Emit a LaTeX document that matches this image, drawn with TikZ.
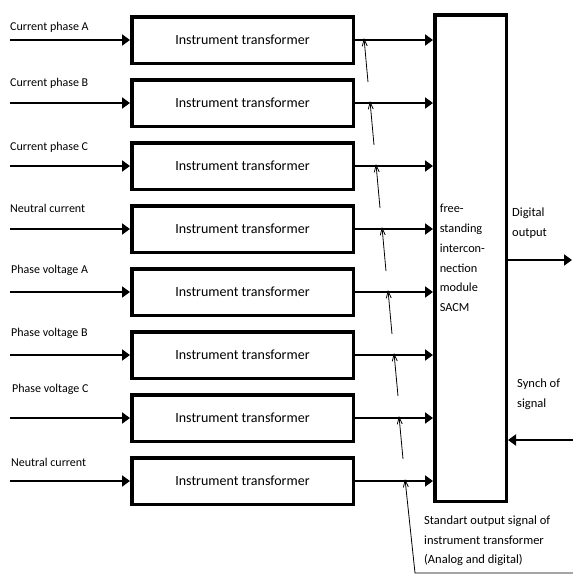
\documentclass[tikz,border=0pt]{standalone}
\usepackage{fontspec}
\setmainfont{Carlito}
\usetikzlibrary{arrows.meta,positioning,calc}

\begin{document}
\begin{tikzpicture}[x=1pt,y=-1pt,
  itbox/.style={draw,line width=3.5pt,minimum width=221.5pt,minimum height=46.5pt,
                inner sep=0pt,font=\fontsize{14}{16}\selectfont},
  sacm/.style={draw,line width=3.5pt,minimum height=486.5pt,text width=61.5pt,
               inner xsep=5pt,align=left,font=\fontsize{12.3}{19.8}\selectfont},
  lab/.style={anchor=west,inner sep=0pt,align=left,font=\fontsize{12}{19}\selectfont},
  rlab/.style={lab,font=\fontsize{12.5}{19.5}\selectfont},
  a/.style={line width=2.6pt,-{Triangle[length=8pt,width=11pt]}},
  pt/.style={line width=0.8pt,-{Straight Barb[length=7pt,width=5pt]}},
  node distance=13pt]
\useasboundingbox (0,0) rectangle (573,576);
% transformers
\node[itbox] (t1) at (242.5,40) {Instrument transformer};
\node[itbox,below=of t1] (t2) {Instrument transformer};
\node[itbox,below=of t2] (t3) {Instrument transformer};
\node[itbox,below=of t3] (t4) {Instrument transformer};
\node[itbox,below=of t4] (t5) {Instrument transformer};
\node[itbox,below=of t5] (t6) {Instrument transformer};
\node[itbox,below=of t6] (t7) {Instrument transformer};
\node[itbox,below=of t7] (t8) {Instrument transformer};
\node[sacm] (m) at (470.5,258) {free-\\standing\\intercon-\\nection\\module\\SACM};
% inputs
\node[lab] (l1) at (10,27) {Current phase A};
\node[lab] (l2) at (10,83) {Current phase B};
\node[lab] (l3) at (10,147) {Current phase C};
\node[lab] (l4) at (10,208) {Neutral current};
\node[lab] (l5) at (11,270) {Phase voltage A};
\node[lab] (l6) at (11,333) {Phase voltage B};
\node[lab] (l7) at (12,389) {Phase voltage C};
\node[lab] (l8) at (11,462) {Neutral current};
\coordinate (i1) at (10,40);  \coordinate (i2) at (10,103);
\coordinate (i3) at (10,166); \coordinate (i4) at (10,229);
\coordinate (i5) at (10,292); \coordinate (i6) at (10,355);
\coordinate (i7) at (10,418); \coordinate (i8) at (10,481);
\draw[a] (i1)--(t1); \draw[a] (i2)--(t2); \draw[a] (i3)--(t3); \draw[a] (i4)--(t4);
\draw[a] (i5)--(t5); \draw[a] (i6)--(t6); \draw[a] (i7)--(t7); \draw[a] (i8)--(t8);
% into SACM
\draw[a] (t1.east)--(t1.east -| m.west); \draw[a] (t2.east)--(t2.east -| m.west);
\draw[a] (t3.east)--(t3.east -| m.west); \draw[a] (t4.east)--(t4.east -| m.west);
\draw[a] (t5.east)--(t5.east -| m.west); \draw[a] (t6.east)--(t6.east -| m.west);
\draw[a] (t7.east)--(t7.east -| m.west); \draw[a] (t8.east)--(t8.east -| m.west);
% SACM side
\coordinate (out) at (572,260);
\coordinate (syn) at (573,440);
\draw[a] (m.east |- out)--(out);
\draw[a] (syn)--(m.east |- syn);
\node[rlab] (dig) at (512,223) {Digital\\output};
\node[rlab] (sy) at (517,394) {Synch of\\signal};
\node[rlab] (std) at (424,541) {Standart output signal of\\instrument transformer\\(Analog and digital)};
% pointers to the output signals
\coordinate (p1) at (364,38);  \coordinate (q1) at (368,82);
\coordinate (p2) at (370,101); \coordinate (q2) at (374,145);
\coordinate (p3) at (376,164); \coordinate (q3) at (380,208);
\coordinate (p4) at (382,227); \coordinate (q4) at (386,271);
\coordinate (p5) at (388,290); \coordinate (q5) at (392,334);
\coordinate (p6) at (394,353); \coordinate (q6) at (398,396);
\coordinate (p7) at (399,416); \coordinate (q7) at (403,459);
\coordinate (p8) at (405,479); \coordinate (q8) at (415,573);
\coordinate (r) at (573,573);
\draw[pt] (q1)--(p1); \draw[pt] (q2)--(p2); \draw[pt] (q3)--(p3); \draw[pt] (q4)--(p4);
\draw[pt] (q5)--(p5); \draw[pt] (q6)--(p6); \draw[pt] (q7)--(p7);
\draw[pt] (r)--(q8)--(p8);
\end{tikzpicture}
\end{document}
